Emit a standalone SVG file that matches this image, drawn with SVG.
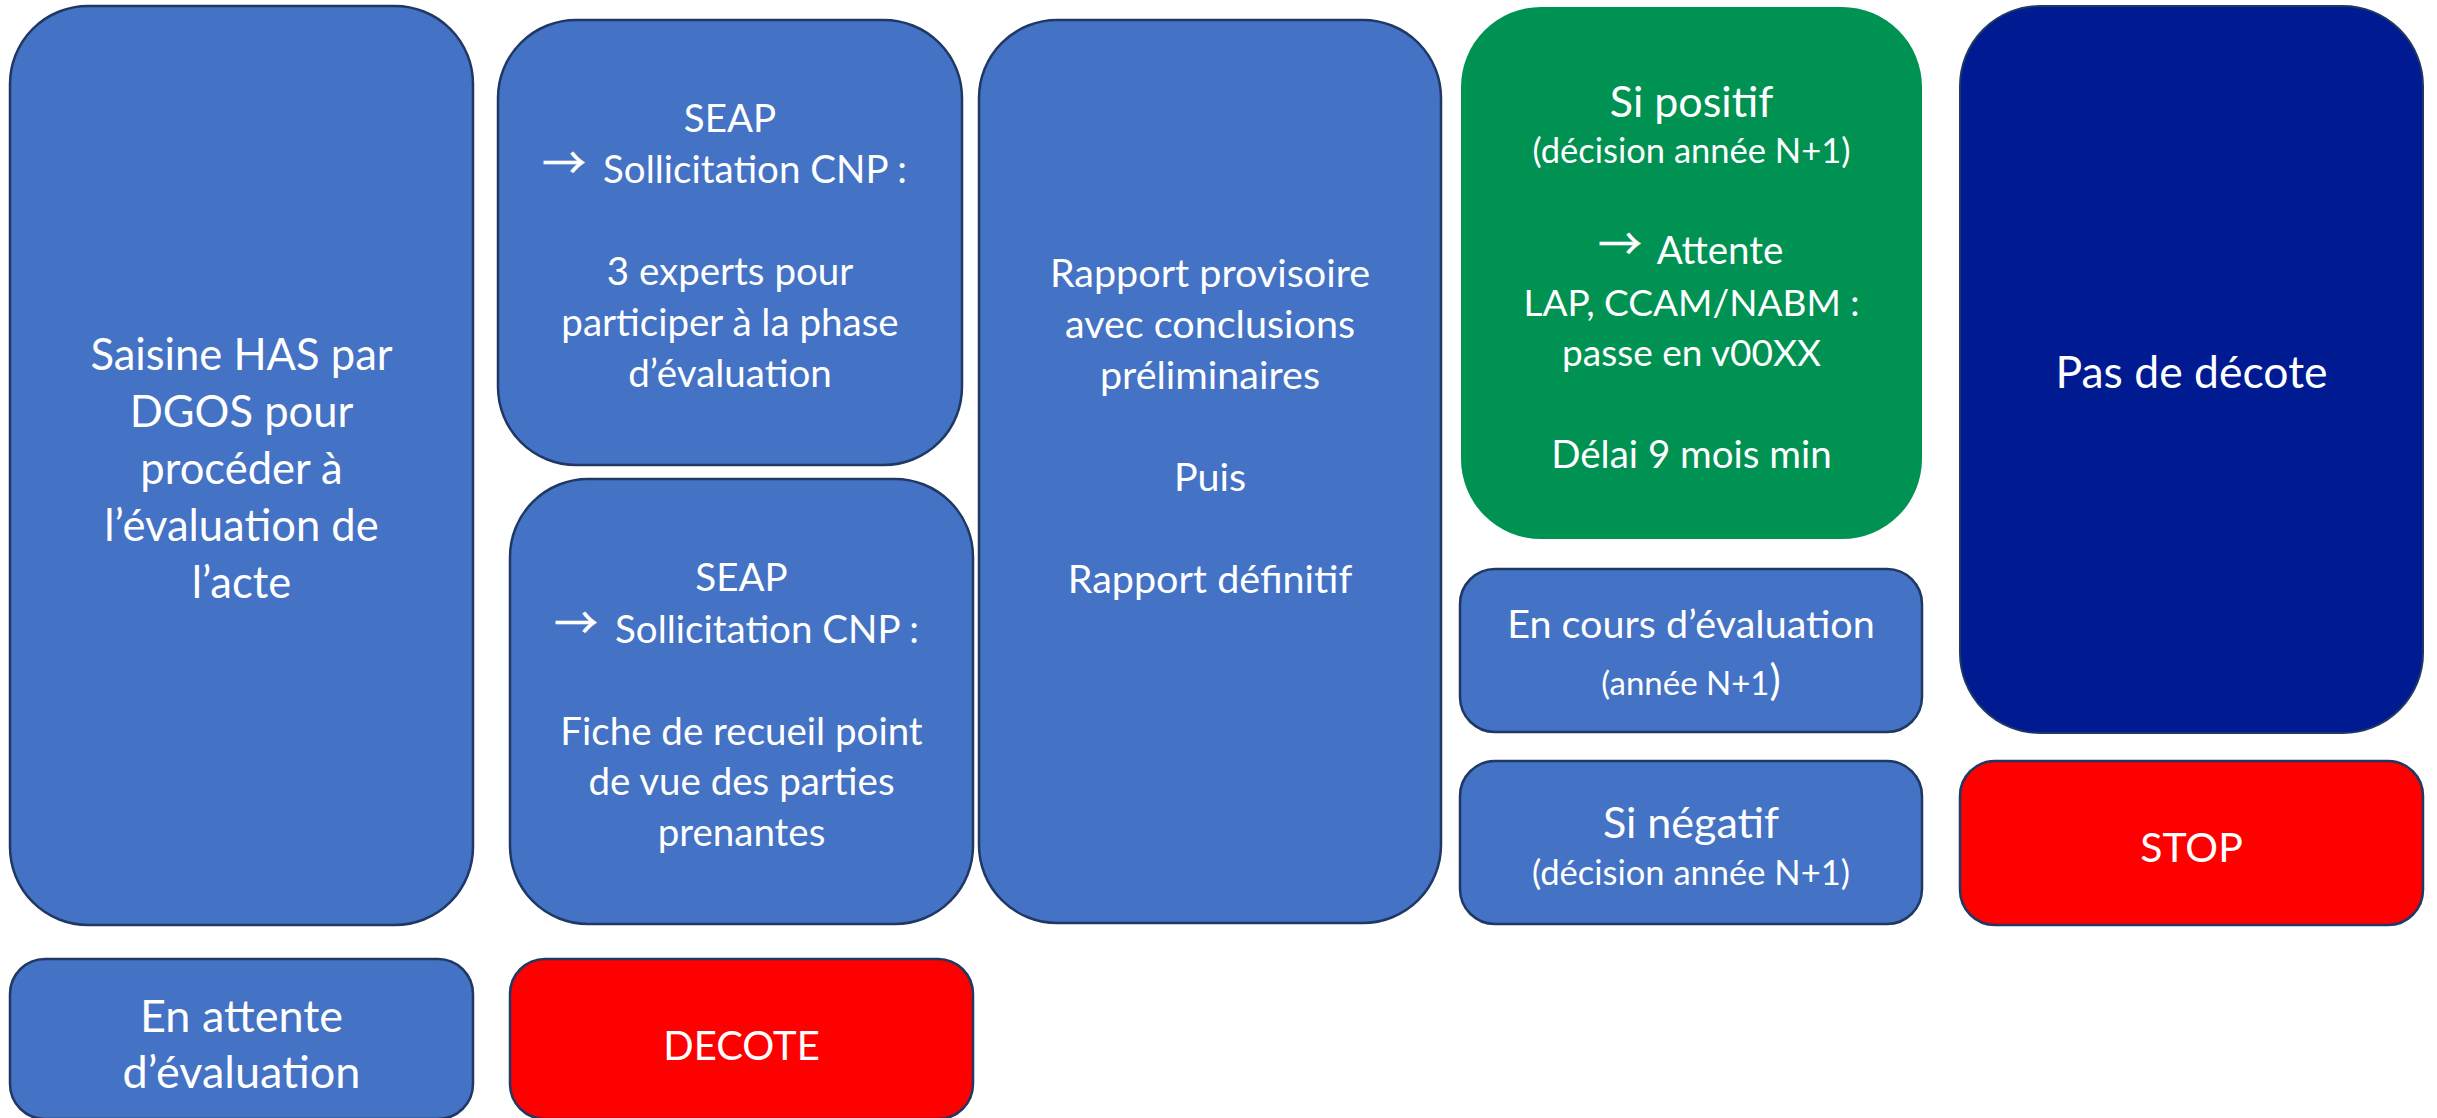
<svg xmlns="http://www.w3.org/2000/svg" width="2437" height="1118" viewBox="0 0 2437 1118">
<style>
.b{fill:#4472C4;stroke:#1F3864;stroke-width:2.5}
.r{fill:#FF0000;stroke:#1F3864;stroke-width:2.5}
.g{fill:#009252}
.n{fill:#001A91;stroke:#1F3864;stroke-width:2}
text{font-family:Lato,"Liberation Sans",sans-serif;fill:#FFFFFF;text-anchor:middle}
.s46{font-size:43.5px}.s38{font-size:38.5px}.s37{font-size:37px}.s39{font-size:39.5px}.s42{font-size:43px}.s32{font-size:34.5px}
text.ar{font-family:"Noto Sans CJK JP","DejaVu Sans",sans-serif;font-size:44px;stroke:#FFFFFF;stroke-width:0.4}
</style>
<rect width="2437" height="1118" fill="#FFFFFF"/>
<g id="connectors"></g>
<g id="saisine">
<rect class="b" x="10" y="6" width="463" height="919" rx="78"/>
<text class="s46"><tspan x="241.5" y="370">Saisine HAS par</tspan><tspan x="241.5" y="427">DGOS pour</tspan><tspan x="241.5" y="484">procéder à</tspan><tspan x="241.5" y="541">l’évaluation de</tspan><tspan x="241.5" y="598">l’acte</tspan></text>
</g>
<g id="seap1">
<rect class="b" x="498" y="20" width="464" height="445" rx="78"/>
<text class="s38"><tspan x="730" y="132">SEAP</tspan><tspan x="730" y="285">3 experts pour</tspan><tspan x="730" y="336">participer à la phase</tspan><tspan x="730" y="387">d’évaluation</tspan></text>
<text class="ar" x="564" y="179">→</text>
<text class="s38" x="755" y="183">Sollicitation CNP :</text>
</g>
<g id="seap2">
<rect class="b" x="510" y="479" width="463" height="445" rx="78"/>
<text class="s38"><tspan x="741.5" y="591">SEAP</tspan><tspan x="741.5" y="745">Fiche de recueil point</tspan><tspan x="741.5" y="795">de vue des parties</tspan><tspan x="741.5" y="846">prenantes</tspan></text>
<text class="ar" x="576" y="639">→</text>
<text class="s38" x="767" y="643">Sollicitation CNP :</text>
</g>
<g id="rapport">
<rect class="b" x="979" y="20" width="462" height="903" rx="78"/>
<text class="s39"><tspan x="1210" y="287">Rapport provisoire</tspan><tspan x="1210" y="338">avec conclusions</tspan><tspan x="1210" y="389">préliminaires</tspan><tspan x="1210" y="491">Puis</tspan><tspan x="1210" y="593">Rapport définitif</tspan></text>
</g>
<g id="positif">
<rect class="g" x="1461" y="7" width="461" height="532" rx="80"/>
<text><tspan class="s42" x="1691.5" y="117">Si positif</tspan><tspan class="s32" x="1691.5" y="163">(décision année N+1)</tspan><tspan class="s37" x="1691.5" y="316">LAP, CCAM/NABM :</tspan><tspan class="s37" x="1691.5" y="366">passe en v00XX</tspan><tspan class="s38" x="1691.5" y="468">Délai 9 mois min</tspan></text>
<text class="ar" x="1620" y="260">→</text>
<text class="s38" x="1720" y="264">Attente</text>
</g>
<g id="encours">
<rect class="b" x="1460" y="569" width="462" height="163" rx="35"/>
<text><tspan class="s39" x="1691" y="638">En cours d’évaluation</tspan><tspan style="font-size:33px" x="1691" y="695">(année N+1<tspan style="font-size:42px">)</tspan></tspan></text>
</g>
<g id="negatif">
<rect class="b" x="1460" y="761" width="462" height="163" rx="35"/>
<text><tspan class="s42" x="1691" y="838">Si négatif</tspan><tspan class="s32" x="1691" y="885">(décision année N+1)</tspan></text>
</g>
<g id="pasdecote">
<rect class="n" x="1960" y="6" width="463" height="727" rx="80"/>
<text style="font-size:44.5px" x="2191.5" y="388">Pas de décote</text>
</g>
<g id="stop">
<rect class="r" x="1960" y="761" width="463" height="164" rx="35"/>
<text style="font-size:41px" x="2191.5" y="862">STOP</text>
</g>
<g id="attente">
<rect class="b" x="10" y="959" width="463" height="160" rx="35"/>
<text style="font-size:45px"><tspan x="241.5" y="1032">En attente</tspan><tspan x="241.5" y="1088">d’évaluation</tspan></text>
</g>
<g id="decote">
<rect class="r" x="510" y="959" width="463" height="160" rx="35"/>
<text style="font-size:40px" x="741.5" y="1060">DECOTE</text>
</g>
</svg>
